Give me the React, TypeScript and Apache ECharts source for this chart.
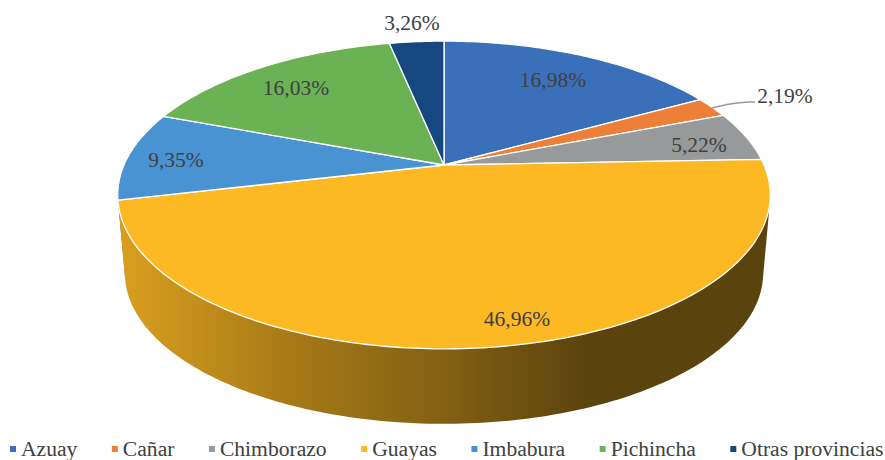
import React, { useEffect, useRef } from "react";
import * as echarts from "echarts";

const categories = ["Azuay", "Cañar", "Chimborazo", "Guayas", "Imbabura", "Pichincha", "Otras provincias"];
const shares = [16.98, 2.19, 5.22, 46.96, 9.35, 16.03, 3.26];
const colors = ["#3a70ba", "#ee7f38", "#97999a", "#fdb924", "#4a93d2", "#6bb254", "#16477f"];

// Layout of the tilted disc (perspective projection of a unit circle)
const CX = 444;
const APEX_Y = 165;
const HALF_W = 320;
const HALF_H = 148;
const PERSPECTIVE = 0.195;
const FLOOR_SCALE = 0.978;
const FLOOR_DROP = 79;
const LEFT = 118;
const RIGHT = 770;

// Label centres, in page pixels
const labelCentres: [number, number][] = [
  [553, 80], [785, 96], [699, 145], [517, 319], [176, 160], [296, 88], [412, 23],
];
const leaderCategory = "Cañar";
const leaderPoints = [[712, 108], [730, 104], [748, 102], [755, 102]];

const TEXT = "#404040";
const FONT = '"Liberation Serif", "Times New Roman", serif';

// brightness of the side wall from left to right
const wallStops: [number, number][] = [[0, 0.86], [0.28, 0.65], [0.48, 0.53], [0.725, 0.36], [1, 0.36]];

function project(deg: number, floor: boolean): [number, number] {
  const t = (deg * Math.PI) / 180;
  const X = Math.sin(t);
  const Y = Math.cos(t);
  const d = 1 + PERSPECTIVE * Y;
  const s = floor ? FLOOR_SCALE : 1;
  return [CX + (s * HALF_W * X) / d, APEX_Y + (floor ? FLOOR_DROP : 0) - (s * HALF_H * Y) / d];
}

function hull(pts: [number, number][]): [number, number][] {
  const p = [...pts].sort((a, b) => a[0] - b[0] || a[1] - b[1]);
  const cross = (o: number[], a: number[], b: number[]) =>
    (a[0] - o[0]) * (b[1] - o[1]) - (a[1] - o[1]) * (b[0] - o[0]);
  const lower: [number, number][] = [];
  for (const q of p) {
    while (lower.length > 1 && cross(lower[lower.length - 2], lower[lower.length - 1], q) <= 0) lower.pop();
    lower.push(q);
  }
  const upper: [number, number][] = [];
  for (const q of p.reverse()) {
    while (upper.length > 1 && cross(upper[upper.length - 2], upper[upper.length - 1], q) <= 0) upper.pop();
    upper.push(q);
  }
  return lower.slice(0, -1).concat(upper.slice(0, -1));
}

function shade(hex: string, f: number): string {
  const n = parseInt(hex.slice(1), 16);
  const c = [(n >> 16) & 255, (n >> 8) & 255, n & 255].map((v) => Math.round(v * f));
  return `rgb(${c[0]},${c[1]},${c[2]})`;
}

const total = shares.reduce((a, b) => a + b, 0);
const startShare = shares.map((_, i) => shares.slice(0, i).reduce((a, b) => a + b, 0));

function makeRender(index: number) {
  return (_params: any, api: any) => {
    const value = api.value(0) as number;
    const a0 = (startShare[index] / total) * 360;
    const a1 = a0 + (value / total) * 360;
    const top: [number, number][] = [];
    const wall: [number, number][] = [];
    const steps = Math.max(4, Math.ceil(a1 - a0));
    for (let k = 0; k <= steps; k++) {
      const a = a0 + ((a1 - a0) * k) / steps;
      const p = project(a, false);
      top.push(p);
      wall.push(p, project(a, true));
    }
    const mid = ((a0 + a1) / 2) * (Math.PI / 180);
    const children: any[] = [
      {
        type: "polygon",
        z2: 5 - Math.cos(mid),
        shape: { points: hull(wall) },
        style: {
          fill: {
            type: "linear",
            global: true,
            x: LEFT,
            y: 0,
            x2: RIGHT,
            y2: 0,
            colorStops: wallStops.map(([offset, f]) => ({ offset, color: shade(colors[index], f) })),
          },
        },
      },
      {
        type: "polygon",
        z2: 10,
        shape: { points: [[CX, APEX_Y], ...top] },
        style: { fill: colors[index], stroke: "#ffffff", lineWidth: 1.3, lineJoin: "round" },
      },
      {
        type: "text",
        z2: 20,
        x: labelCentres[index][0],
        y: labelCentres[index][1],
        style: {
          text: value.toFixed(2).replace(".", ",") + "%",
          fill: TEXT,
          font: `21.5px ${FONT}`,
          textAlign: "center",
          textVerticalAlign: "middle",
        },
      },
    ];
    if (categories[index] === leaderCategory) {
      children.push({
        type: "polyline",
        z2: 15,
        shape: { points: leaderPoints, smooth: 0.3 },
        style: { stroke: "#9a9a9a", lineWidth: 1.5, fill: "none" },
      });
    }
    return { type: "group", children };
  };
}

export default function App() {
  const ref = useRef<HTMLDivElement>(null);
  useEffect(() => {
    document.body.style.margin = "0";
    const chart = echarts.init(ref.current!, undefined, { renderer: "svg" });
    chart.setOption({
      animation: false,
      backgroundColor: "#ffffff",
      legend: {
        data: categories,
        left: 10,
        top: 438,
        padding: 0,
        itemWidth: 6,
        itemHeight: 6,
        itemGap: 34.5,
        icon: "rect",
        selectedMode: false,
        textStyle: { color: TEXT, fontFamily: FONT, fontSize: 21.6 },
      },
      series: categories.map((name, i) => ({
        type: "custom",
        name,
        coordinateSystem: "none",
        silent: true,
        itemStyle: { color: colors[i] },
        data: [[shares[i]]],
        renderItem: makeRender(i),
      })),
    });
    return () => chart.dispose();
  }, []);
  return <div ref={ref} style={{ width: 885, height: 460 }} />;
}
